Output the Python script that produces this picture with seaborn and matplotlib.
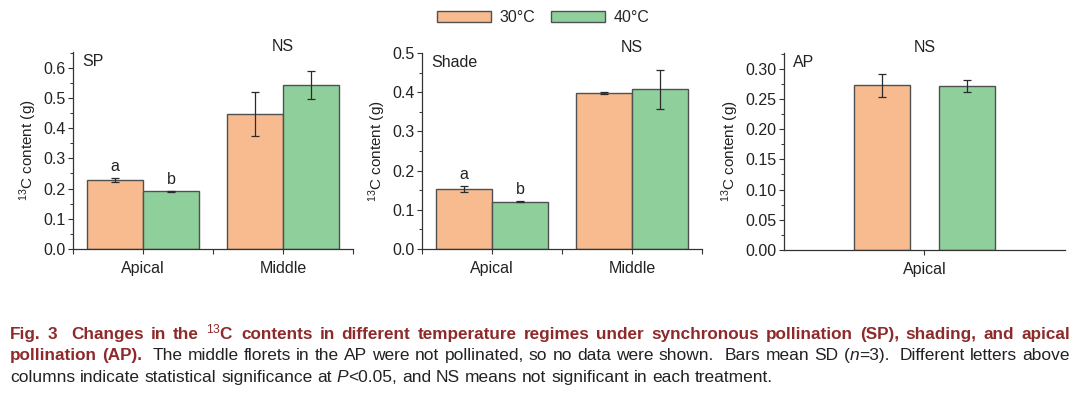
import re
import matplotlib
matplotlib.use("Agg")
import matplotlib.pyplot as plt
import seaborn as sns
import pandas as pd
from matplotlib.ticker import MultipleLocator, FormatStrFormatter

# data
temps = ["30°C", "40°C"]
sp_positions = ["Apical", "Middle"]
sp_30 = [0.228, 0.446]
sp_40 = [0.191, 0.544]
sp_30_sd = [0.006, 0.073]
sp_40_sd = [0.002, 0.046]
sp_letters = ["a", "b"]

shade_positions = ["Apical", "Middle"]
shade_30 = [0.153, 0.398]
shade_40 = [0.121, 0.407]
shade_30_sd = [0.008, 0.002]
shade_40_sd = [0.002, 0.050]
shade_letters = ["a", "b"]

ap_positions = ["Apical"]
ap_30 = [0.273]
ap_40 = [0.2715]
ap_30_sd = [0.019]
ap_40_sd = [0.010]

colors = ["#f7bb8f", "#8fcf9c"]
caption_red = "#8e2a2a"
FS = 11.5

sns.set_theme(style="ticks")
plt.rcParams["font.family"] = ["Liberation Sans", "DejaVu Sans"]
plt.rcParams["mathtext.fontset"] = "custom"
plt.rcParams["mathtext.rm"] = "Liberation Sans"
plt.rcParams["mathtext.it"] = "Liberation Sans:italic"
plt.rcParams["mathtext.bf"] = "Liberation Sans:bold"


def make_df(positions, v30, v40):
    return pd.DataFrame({
        "Position": positions * 2,
        "Content": v30 + v40,
        "Temp": [temps[0]] * len(positions) + [temps[1]] * len(positions),
    })


def draw_panel(ax, positions, v30, v40, sd30, sd40, tag, ylim, major, fmt,
               width=0.8, gap=0.0, letters=None, ns_x=None):
    df = make_df(positions, v30, v40)
    sns.barplot(data=df, x="Position", y="Content", hue="Temp", hue_order=temps,
                palette=colors, edgecolor="#505050", linewidth=1.0,
                errorbar=None, width=width, gap=gap, saturation=1,
                legend=(tag == "Shade"), ax=ax)
    for i, (cont, sds) in enumerate(zip(ax.containers, [sd30, sd40])):
        xs = [p.get_x() + p.get_width() / 2 for p in cont]
        ys = [p.get_height() for p in cont]
        ax.errorbar(xs, ys, yerr=sds, fmt="none", ecolor="#2b2b2b",
                    elinewidth=0.9, capsize=3, capthick=0.9)
        if letters is not None:
            ax.annotate(letters[i], (xs[0], ys[0] + sds[0]), xytext=(0, 3),
                        textcoords="offset points", ha="center", va="bottom",
                        fontsize=FS, color="#222222")
    ax.set_ylim(*ylim)
    ax.yaxis.set_major_locator(MultipleLocator(major))
    ax.yaxis.set_minor_locator(MultipleLocator(major / 2))
    ax.yaxis.set_major_formatter(FormatStrFormatter(fmt))
    ax.set_xlabel("")
    ax.set_ylabel("$^{13}$C content (g)", fontsize=11, color="#222222", labelpad=3)
    sns.despine(ax=ax)
    for s in ["left", "bottom"]:
        ax.spines[s].set_color("#333333")
        ax.spines[s].set_linewidth(0.9)
    ax.tick_params(axis="both", which="major", labelsize=FS, colors="#333333",
                   labelcolor="#222222", length=3.5, width=0.8, pad=2)
    ax.tick_params(axis="x", which="major", pad=5)
    ax.tick_params(axis="y", which="minor", length=2, width=0.7, colors="#333333")
    ax.text(0.032, 0.95, tag, transform=ax.transAxes, fontsize=FS,
            ha="left", va="center", color="#222222")
    ax.text(ns_x, 1.03, "NS", transform=ax.get_xaxis_transform(), fontsize=FS,
            ha="center", va="center", color="#222222")


fig = plt.figure(figsize=(10.8, 3.97), dpi=100)
ax1 = fig.add_axes([0.0676, 0.3728, 0.2593, 0.4962])
ax2 = fig.add_axes([0.3907, 0.3728, 0.2593, 0.4937])
ax3 = fig.add_axes([0.7259, 0.3703, 0.2602, 0.4962])

draw_panel(ax1, sp_positions, sp_30, sp_40, sp_30_sd, sp_40_sd, "SP",
           (0, 0.652), 0.1, "%.1f", letters=sp_letters, ns_x=1)
ax1.set_xlim(-0.5, 1.5)
ax1.xaxis.set_minor_locator(MultipleLocator(0.5))
ax1.tick_params(axis="x", which="minor", length=3.5, width=0.8, colors="#333333")

draw_panel(ax2, shade_positions, shade_30, shade_40, shade_30_sd, shade_40_sd, "Shade",
           (0, 0.5), 0.1, "%.1f", letters=shade_letters, ns_x=1)
ax2.set_xlim(-0.5, 1.5)
ax2.xaxis.set_minor_locator(MultipleLocator(0.5))
ax2.tick_params(axis="x", which="minor", length=3.5, width=0.8, colors="#333333")

draw_panel(ax3, ap_positions, ap_30, ap_40, ap_30_sd, ap_40_sd, "AP",
           (0, 0.326), 0.05, "%.2f", width=0.6, gap=0.333, ns_x=0)
ax3.set_xlim(-0.5, 0.5)

# shared legend at the top
handles, labels = ax2.get_legend_handles_labels()
ax2.get_legend().remove()
fig.legend(handles, labels, loc="center", bbox_to_anchor=(0.503, 0.955), ncol=2,
           frameon=False, fontsize=FS, handlelength=3.4, handleheight=0.7,
           handletextpad=0.5, columnspacing=1.0)

# caption: words placed one by one so lines can be justified
fig.canvas.draw()
renderer = fig.canvas.get_renderer()
BOLD = dict(color=caption_red, weight="bold", style="normal", fontsize=12.3)
REG = dict(color="#222222", weight="normal", style="normal", fontsize=12.5)
ITAL = dict(color="#222222", weight="normal", style="italic", fontsize=12.5)
X0, X1 = 10, 1070


def caption_line(y, pieces, justify=False):
    tokens = []
    for txt, props in pieces:
        for word, sp in re.findall(r"(\S+)(\s*)", txt):
            tokens.append([word, props, len(sp)])
    widths = []
    for word, props, _ in tokens:
        t = fig.text(0, 0, word, **props)
        widths.append(t.get_window_extent(renderer=renderer).width)
        t.remove()
    sw = [props["fontsize"] * 100 / 72 * 0.278 for _, props, _ in tokens]
    n_sp = sum(tok[2] for tok in tokens[:-1])
    natural = sum(widths) + sum(s * tok[2] for s, tok in zip(sw[:-1], tokens[:-1]))
    extra = (X1 - X0 - natural) / n_sp if justify and n_sp else 0
    x = X0
    for (word, props, nsp), w, s in zip(tokens, widths, sw):
        fig.text(x / 1080, y, word, ha="left", va="baseline", **props)
        x += w + nsp * (s + extra)


caption_line(0.146, [
    ("Fig. 3  Changes in the $^{13}$C contents in different temperature regimes under "
     "synchronous pollination (SP), shading, and apical", BOLD),
], justify=True)
caption_line(0.092, [
    ("pollination (AP).  ", BOLD),
    ("The middle florets in the AP were not pollinated, so no data were shown.  "
     "Bars mean SD (", REG),
    ("n", ITAL),
    ("=3).  Different letters above", REG),
], justify=True)
caption_line(0.038, [
    ("columns indicate statistical significance at ", REG),
    ("P", ITAL),
    ("<0.05, and NS means not significant in each treatment.", REG),
])

fig.savefig("out.png", dpi=100)
